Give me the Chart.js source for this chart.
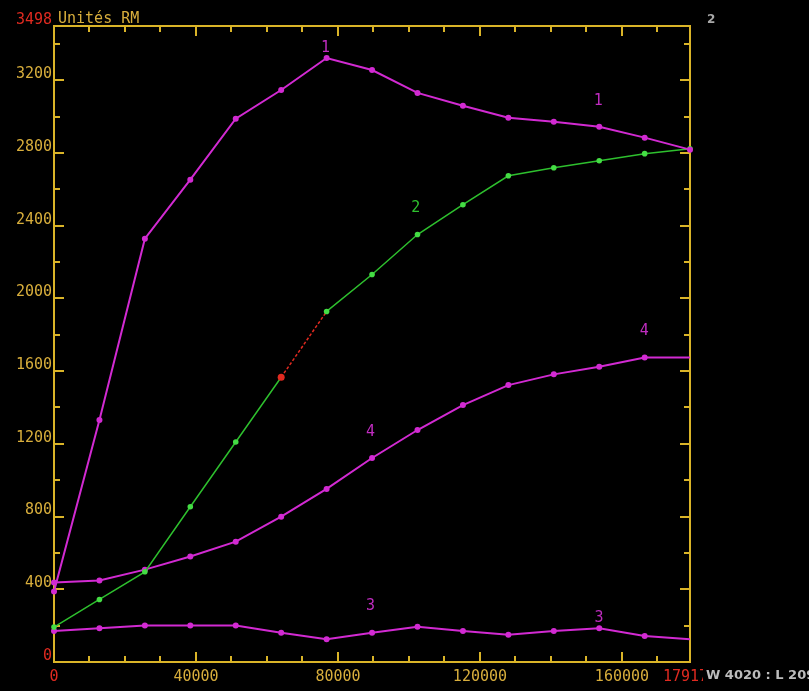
<!DOCTYPE html>
<html><head><meta charset="utf-8">
<script src="https://cdn.jsdelivr.net/npm/chart.js@4.4.0/dist/chart.umd.min.js"></script>
<style>html,body{margin:0;padding:0;background:#000;overflow:hidden}#wrap{width:809px;height:691px;position:relative}</style>
</head><body><div id="wrap"><canvas id="c" width="809" height="691"></canvas></div>
<script>
// ---- data ----
const xValues = [0,12800,25600,38400,51200,64000,76800,89600,102400,115200,128000,140800,153600,166400,179170];
const series1 = [388,1331,2328,2653,2988,3146,3322,3256,3130,3059,2993,2971,2944,2884,2818];
const series2 = [192,344,496,854,1210,1566,1928,2131,2351,2515,2674,2718,2757,2796,2823];
const series3 = [170,185,201,201,201,161,125,161,194,170,150,170,185,143,125];
const series4 = [437,448,508,580,662,799,952,1122,1276,1413,1523,1582,1624,1675,1675];
const xTicks = [0,40000,80000,120000,160000,179170];
const yTicks = [0,400,800,1200,1600,2000,2400,2800,3200,3498];
const curveLabelText = ['1','1','2','3','3','4','4'];
const curveLabelX = [76500,153300,101900,89200,153560,89200,166270];
const curveLabelY = [3377,3087,2494,306,240,1266,1820];
const unitLabel = 'Unités RM';
const cornerLabel = '2';
const windowLabel = 'W 4020 : L 2090';

// ---- styles ----
const MAG = '#d22ad2';
const MAG_LBL = '#c02cc0';
const GREEN = '#2ec02e';
const GREEN_PT = '#44dd44';
const RED = '#e02a20';
const GOLD = '#d8ae3c';
const AXIS = '#dab428';
const FONT = '"DejaVu Sans Mono", "Liberation Mono", monospace';
const labelColors = [MAG_LBL,MAG_LBL,GREEN,MAG_LBL,MAG_LBL,MAG_LBL,MAG_LBL];

const pts = arr => arr.map((v,i)=>({x:xValues[i], y:v}));
const lastIdx = xValues.length - 1;

const bgPlugin = {
  id:'bg',
  beforeDraw(chart){ const c=chart.ctx; c.save(); c.fillStyle='#000'; c.fillRect(0,0,chart.width,chart.height); c.restore(); }
};
const axesPlugin = {
  id:'axes',
  beforeDatasetsDraw(chart){
    const {ctx, chartArea:a, scales:{x,y}} = chart;
    ctx.save();
    ctx.strokeStyle = AXIS; ctx.lineWidth = 2;
    ctx.strokeRect(a.left, a.top, a.right-a.left, a.bottom-a.top);
    ctx.beginPath();
    for (let v=10000; v<x.max; v+=10000){
      const px = Math.round(x.getPixelForValue(v));
      const L = (v%40000===0)?10:6;
      ctx.moveTo(px,a.bottom); ctx.lineTo(px,a.bottom-L);
      ctx.moveTo(px,a.top); ctx.lineTo(px,a.top+L);
    }
    for (let v=200; v<y.max; v+=200){
      const py = Math.round(y.getPixelForValue(v));
      const L = (v%400===0)?10:6;
      ctx.moveTo(a.left,py); ctx.lineTo(a.left+L,py);
      ctx.moveTo(a.right,py); ctx.lineTo(a.right-L,py);
    }
    ctx.stroke();
    ctx.restore();
  },
  afterDraw(chart){
    const {ctx, chartArea:a, scales:{x,y}} = chart;
    ctx.save();
    ctx.textAlign='center'; ctx.textBaseline='middle';
    ctx.font = '15px '+FONT;
    curveLabelText.forEach((t,i)=>{
      ctx.fillStyle = labelColors[i];
      ctx.fillText(t, x.getPixelForValue(curveLabelX[i]), y.getPixelForValue(curveLabelY[i]));
    });
    ctx.textAlign='left';
    ctx.fillStyle = GOLD;
    ctx.fillText(unitLabel, a.left+4, a.top-7);
    ctx.fillStyle = '#a8a8a8';
    ctx.font = 'bold 12px "DejaVu Sans", sans-serif';
    ctx.fillText(cornerLabel, a.right+17, 20);
    ctx.fillStyle = '#000';
    ctx.fillRect(a.right+13, a.bottom+4, chart.width, 25);
    ctx.fillStyle = '#bcbcbc';
    ctx.font = 'bold 13px "DejaVu Sans", sans-serif';
    ctx.fillText(windowLabel, a.right+16, 676);
    ctx.restore();
  }
};

const tickColor = c => (c.tick && (c.tick.value===0 || c.tick.value===c.chart.scales[c.scale.id].max)) ? RED : GOLD;

new Chart(document.getElementById('c'), {
  type:'line',
  data:{ datasets:[
    {label:'1', data:pts(series1), borderColor:MAG, backgroundColor:MAG, borderWidth:2, pointRadius:3, pointBorderWidth:0, pointBackgroundColor:MAG, tension:0},
    {label:'2', data:pts(series2), borderColor:GREEN, backgroundColor:GREEN_PT, borderWidth:1.5, pointRadius:c=>c.dataIndex===5?3.5:2.8, pointBorderWidth:0,
      pointBackgroundColor:c=>c.dataIndex===5?RED:GREEN_PT, tension:0,
      segment:{ borderColor:c=>c.p0DataIndex===5?RED:undefined, borderDash:c=>c.p0DataIndex===5?[3,2]:undefined }},
    {label:'3', data:pts(series3), borderColor:MAG, backgroundColor:MAG, borderWidth:2, pointRadius:c=>c.dataIndex===lastIdx?0:3, pointBorderWidth:0, pointBackgroundColor:MAG, tension:0},
    {label:'4', data:pts(series4), borderColor:MAG, backgroundColor:MAG, borderWidth:2, pointRadius:c=>c.dataIndex===lastIdx?0:3, pointBorderWidth:0, pointBackgroundColor:MAG, tension:0}
  ]},
  options:{
    responsive:false, animation:false, clip:false,
    layout:{padding:{left:0, top:26, right:119, bottom:0}},
    plugins:{legend:{display:false}, tooltip:{enabled:false}},
    scales:{
      x:{type:'linear', min:0, max:179170,
        afterBuildTicks:s=>{ s.ticks = xTicks.map(v=>({value:v})); },
        afterFit:s=>{ s.height = 29; },
        grid:{display:false, drawTicks:false}, border:{display:false},
        ticks:{color:tickColor, font:{family:FONT, size:15}, padding:6, maxRotation:0, minRotation:0, autoSkip:false, callback:v=>String(v)}
      },
      y:{type:'linear', min:0, max:3498,
        afterBuildTicks:s=>{ s.ticks = yTicks.map(v=>({value:v})); },
        afterFit:s=>{ s.width = 54; },
        grid:{display:false, drawTicks:false}, border:{display:false},
        ticks:{color:tickColor, font:{family:FONT, size:15}, padding:2, labelOffset:-6, autoSkip:false, callback:v=>String(v)}
      }
    }
  },
  plugins:[bgPlugin, axesPlugin]
});
</script></body></html>
